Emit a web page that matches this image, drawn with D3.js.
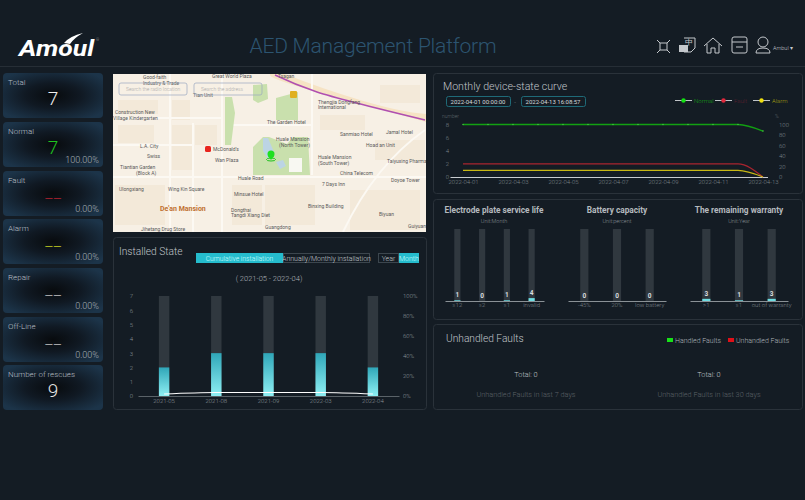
<!DOCTYPE html>
<html>
<head>
<meta charset="utf-8">
<script src="https://cdn.jsdelivr.net/npm/d3@7"></script>
<style>
html,body{margin:0;padding:0;background:#141c24;overflow:hidden}
svg{display:block}
text{font-family:Roboto,"Noto Sans",sans-serif;font-weight:300}
</style>
</head>
<body>
<div class="chart"></div>
<script>
// card values
const cardNames = ["Total","Normal","Fault","Alarm","Repair","Off-Line","Number of rescues"];
const cardValues = ["7","7","——","——","——","——","9"];
const cardPercents = ["","100.00%","0.00%","0.00%","0.00%","0.00%",""];

// installed state
const installMonths = ["2021-05","2021-08","2021-09","2022-03","2022-04"];
const installCounts = [2,3,3,3,2];
const installPercent = [2,3.5,3.5,3.5,2];
const installTicks = [0,1,2,3,4,5,6,7];
const installPctTicks = [0,20,40,60,80,100];

// monthly device-state
const stateDays = ["2022-04-01","2022-04-02","2022-04-03","2022-04-04","2022-04-05","2022-04-06","2022-04-07","2022-04-08","2022-04-09","2022-04-10","2022-04-11","2022-04-12","2022-04-13"];
const normalCurve = [8,8,8,8,8,8,8,8,8,8,8,8,7];
const faultCurve = [2,2,2,2,2,2,2,2,2,2,2,2,0];
const alarmCurve = [1,1,1,1,1,1,1,1,1,1,1,1,0];
const dayTicks = ["2022-04-01","2022-04-03","2022-04-05","2022-04-07","2022-04-09","2022-04-11","2022-04-13"];
const stateTicks = [0,2,4,6,8];
const statePctTicks = [0,20,40,60,80,100];
const stateNames = ["Normal","Fault","Alarm"];

// small bar groups
const electrodeCats = ["≤12","≤2","≤1","invalid"];
const electrodeVals = [1,0,1,4];
const batteryCats = ["-45%","20%","low battery"];
const batteryVals = [0,0,0];
const warrantyCats = [">1","≤1","out of warranty"];
const warrantyVals = [3,1,3];

const svg = d3.select(".chart").append("svg").attr("width",805).attr("height",500);
const defs = svg.append("defs");

const cardGrad = defs.append("radialGradient").attr("id","cardGrad").attr("r","62%");
cardGrad.append("stop").attr("offset","0%").attr("stop-color","#080b0e");
cardGrad.append("stop").attr("offset","45%").attr("stop-color","#101923");
cardGrad.append("stop").attr("offset","100%").attr("stop-color","#1c3449");

const barGrad = defs.append("linearGradient").attr("id","barGrad").attr("x1",0).attr("x2",0).attr("y1",0).attr("y2",1);
barGrad.append("stop").attr("offset","0%").attr("stop-color","#2fa6b8");
barGrad.append("stop").attr("offset","100%").attr("stop-color","#8ff0f4");

// header
svg.append("line").attr("x1",0).attr("x2",805).attr("y1",66.5).attr("y2",66.5).attr("stroke","#262e36");
svg.append("text").attr("x",19).attr("y",56).attr("fill","#fff").attr("font-size",22).attr("font-style","italic")
    .style("font-weight",700).attr("textLength",75).attr("lengthAdjust","spacingAndGlyphs").text("Amoul");
svg.append("path").attr("d","M64 43 Q70 36 83 33 Q74 38 70 44 Z").attr("fill","#fff");
svg.append("text").attr("x",96).attr("y",41).attr("fill","#aaa").attr("font-size",4).text("®");
svg.append("text").attr("x",373).attr("y",53).attr("text-anchor","middle").attr("fill","#2c5470").attr("font-size",21).attr("textLength",247).text("AED Management Platform");

// header icons
const icons = svg.append("g").attr("fill","none").attr("stroke","#c4c8cc").attr("stroke-width",1);
icons.append("rect").attr("x",660).attr("y",43).attr("width",7).attr("height",7);
icons.append("path").attr("d","M657 40l3 3M670 40l-3 3M657 53l3-3M670 53l-3-3");
icons.append("path").attr("d","M684 38h11v10l-4 4h-7");
icons.append("rect").attr("x",679).attr("y",45).attr("width",9).attr("height",7).attr("fill","#c4c8cc").attr("stroke","none");
svg.append("text").attr("x",685).attr("y",45).attr("fill","#c4c8cc").attr("font-size",8).text("中");
icons.append("path").attr("d","M704 46l9-8 9 8M707 44v9h4v-5h4v5h4v-9");
icons.append("rect").attr("x",732).attr("y",37).attr("width",15).attr("height",16).attr("rx",2);
icons.append("path").attr("d","M732 42h15M736 47h7");
icons.append("circle").attr("cx",763).attr("cy",42).attr("r",5);
icons.append("path").attr("d","M756 53q0-5 7-5t7 5z");
svg.append("text").attr("x",773).attr("y",50).attr("fill","#c4c8cc").attr("font-size",5.5).text("Ambul ▾");

// kpi cards
const cardTops = [73,122,171,219,268,317,365];
const cardColors = ["#f0f0f0","#1fc31f","#a8202c","#b8c020","#b5b5b5","#b5b5b5","#e4e4e4"];
const cards = svg.selectAll("g.card").data(cardNames).enter().append("g").attr("class","card")
    .attr("transform",(d,i)=>"translate(3,"+cardTops[i]+")");
cards.append("rect").attr("width",100).attr("height",45).attr("rx",4).attr("fill","url(#cardGrad)");
cards.append("text").attr("x",5).attr("y",12).attr("fill","#b9bfc5").attr("font-size",8).text(d=>d);
cards.append("text").attr("x",50).attr("y",(d,i)=>cardValues[i]=="——"?31:32).attr("text-anchor","middle")
    .attr("fill",(d,i)=>cardColors[i]).attr("font-size",(d,i)=>cardValues[i]=="——"?11:19)
    .style("font-weight",(d,i)=>cardValues[i]=="——"?400:300)
    .text((d,i)=>cardValues[i]);
cards.append("text").attr("x",96).attr("y",41).attr("text-anchor","end").attr("fill","#aab0b6").attr("font-size",9).text((d,i)=>cardPercents[i]);

// map
const map = svg.append("g");
map.append("rect").attr("x",113).attr("y",74).attr("width",313).attr("height",158).attr("fill","#f7f0e5");
const mapClip = defs.append("clipPath").attr("id","mapClip");
mapClip.append("rect").attr("x",113).attr("y",74).attr("width",313).attr("height",158);
const mapG = map.append("g").attr("clip-path","url(#mapClip)");
// building blocks
[[118,100,40,14],[118,125,36,18],[172,100,18,20],[172,125,20,45],[195,125,22,20],[232,185,30,40],[265,185,50,40],[350,190,70,40],[380,85,40,18],[320,115,45,15],[375,140,50,20],[115,185,50,40]].forEach(b=>{
    mapG.append("rect").attr("x",b[0]).attr("y",b[1]).attr("width",b[2]).attr("height",b[3]).attr("fill","#f3e9d9");
});
mapG.append("path").attr("d","M285 74Q320 88 360 100T426 114V122Q370 106 318 92T270 74z").attr("fill","#f6e3c4");
["M113 177H426","M113 118H222","M222 74V232","M193 123V232","M170 74V232","M312 74V175","M425 130Q375 165 343 232","M113 145H193","M232 125H312"].forEach(p=>{
    mapG.append("path").attr("d",p).attr("fill","none").attr("stroke","#fcf9f3").attr("stroke-width",2);
});
["M225 97h7l3 16-4 32h-6z","M253 85l14-1 1 15-10 4-5-3z","M276 98l22-6v28h-22z","M253 175v-28l10-10 6 0 18 7 6-7h15l2 38z"].forEach(p=>{
    mapG.append("path").attr("d",p).attr("fill","#c9e0ad");
});
mapG.append("path").attr("d","M263 138l5 0 6 14-6 7-5-8z").attr("fill","#bcd4e4");
mapG.append("path").attr("d","M276 162l7-2 3 6-6 3z").attr("fill","#bcd4e4");
mapG.append("rect").attr("x",289).attr("y",158).attr("width",13).attr("height",14).attr("fill","#f8f8f2");
mapG.append("path").attr("d","M275 75Q296 85 317 92T425 120").attr("fill","none").attr("stroke","#b04fb0").attr("stroke-width",1.4);
const mapPlaces = [["Good-faith",143,79],["Industry & Trade",143,85],["Great World Plaza",212,78],["Tsagan",278,78],["Tian Unit",193,97],["Thengjia Dongfang",318,104],["International",318,109],["The Garden Hotel",267,124],["Sanmiao Hotel",340,136],["Jamal Hotel",386,134],["Hoad an Unit",366,147],["Huale Mansion",276,141],["(North Tower)",279,147],["Huale Mansion",318,159],["(South Tower)",318,165],["Taiyuxing Pharmacy",387,163],["China Telecom",340,175],["Doyoe Tower",391,182],["7 Days Inn",322,186],["Huale Road",238,180],["McDonald's",213,151],["Wan Plaza",215,162],["Construction New",115,114],["Village Kindergarten",113,120],["L.A. City",140,148],["Swiss",147,158],["Tiantian Garden",120,169],["(Block A)",136,175],["Ulongxiang",119,191],["Wing Kin Square",168,191],["Minsue Hotel",234,196],["Binxing Building",308,208],["Biyuan",379,216],["Dongthai",231,212],["Tangdi Xiang Diet",231,217],["Jihetang Drug Store",141,231],["Guangdong",265,229],["Guiyuan",408,228]];
mapG.selectAll("text.lbl").data(mapPlaces).enter().append("text").attr("class","lbl")
    .attr("x",d=>d[1]).attr("y",d=>d[2]).attr("fill","#5a5a5a").attr("font-size",5).style("font-weight",400).text(d=>d[0]);
mapG.append("text").attr("x",160).attr("y",211).attr("fill","#c07030").attr("font-size",7).style("font-weight",700).text("De'an Mansion");
mapG.append("rect").attr("x",205).attr("y",146).attr("width",6).attr("height",6).attr("rx",1.5).attr("fill","#e8251e");
mapG.append("rect").attr("x",290).attr("y",91).attr("width",7).attr("height",7).attr("rx",1).attr("fill","#e0b020");
mapG.append("ellipse").attr("cx",271).attr("cy",159.5).attr("rx",4.5).attr("ry",1.5).attr("fill","none").attr("stroke","#1fc01f");
mapG.append("circle").attr("cx",271).attr("cy",154).attr("r",3.5).attr("fill","#1fe01f");
mapG.append("path").attr("d","M268 156l3 4 3-4z").attr("fill","#1fe01f");
[[119,"Search the radio location"],[194,"Search the address"]].forEach(b=>{
    mapG.append("rect").attr("x",b[0]).attr("y",83).attr("width",68).attr("height",12).attr("rx",2).attr("fill","none").attr("stroke","#9aa8c0").attr("stroke-width",0.7);
    mapG.append("text").attr("x",b[0]+7).attr("y",91).attr("fill","#aaa").attr("font-size",5).text(b[1]);
});

// panels
[[113,237,313,172],[433,73,369,120],[433,199,369,120],[433,324,369,85]].forEach(p=>{
    svg.append("rect").attr("x",p[0]+0.5).attr("y",p[1]+0.5).attr("width",p[2]).attr("height",p[3]).attr("rx",3)
        .attr("fill","#141c24").attr("stroke","#2a323a");
});

// installed state
svg.append("text").attr("x",119).attr("y",255).attr("fill","#c0c5ca").attr("font-size",10.2).text("Installed State");
svg.append("rect").attr("x",196).attr("y",253).attr("width",87).attr("height",10).attr("fill","#25bccd");
svg.append("text").attr("x",239.5).attr("y",261).attr("text-anchor","middle").attr("fill","#cff").attr("font-size",6.8).text("Cumulative installation");
svg.append("rect").attr("x",283.5).attr("y",253.5).attr("width",86).attr("height",9).attr("fill","none").attr("stroke","#3c464e");
svg.append("text").attr("x",326.5).attr("y",261).attr("text-anchor","middle").attr("fill","#c5cacf").attr("font-size",7).text("Annually/Monthly installation");
svg.append("rect").attr("x",378.5).attr("y",253.5).attr("width",20).attr("height",9).attr("fill","none").attr("stroke","#3c464e");
svg.append("text").attr("x",388.5).attr("y",261).attr("text-anchor","middle").attr("fill","#c5cacf").attr("font-size",7).text("Year");
svg.append("rect").attr("x",399).attr("y",253).attr("width",20).attr("height",10).attr("fill","#25bccd");
svg.append("text").attr("x",409).attr("y",261).attr("text-anchor","middle").attr("fill","#cff").attr("font-size",7).text("Month");
svg.append("text").attr("x",269).attr("y",281).attr("text-anchor","middle").attr("fill","#b0b6bc").attr("font-size",7.5).text("( 2021-05 - 2022-04)");

const instX = d3.scaleBand().domain(installMonths).range([138,399]).paddingInner(0.8).paddingOuter(0.4);
const instY = d3.scaleLinear().domain([0,7]).range([396,296]);
const instPct = d3.scaleLinear().domain([0,100]).range([396,296]);

svg.selectAll("rect.track").data(installMonths).enter().append("rect").attr("class","track")
    .attr("x",d=>instX(d)).attr("width",instX.bandwidth()).attr("y",instY(7)).attr("height",instY(0)-instY(7)).attr("fill","#30383f");
svg.selectAll("rect.inst").data(installCounts).enter().append("rect").attr("class","inst")
    .attr("x",(d,i)=>instX(installMonths[i])).attr("width",instX.bandwidth()).attr("y",d=>instY(d)).attr("height",d=>instY(0)-instY(d)).attr("fill","url(#barGrad)");

function styleAxis(g,color,size){
    g.selectAll("text").attr("fill",color).attr("font-size",size);
    g.selectAll("line").remove();
}
const instAxisX = svg.append("g").attr("transform","translate(0,396)").call(d3.axisBottom(instX).tickSize(0).tickPadding(3));
styleAxis(instAxisX,"#8b9298",6);
instAxisX.select("path").attr("stroke","#5a6268");
const instAxisL = svg.append("g").attr("transform","translate(136,0)").call(d3.axisLeft(instY).tickValues(installTicks).tickFormat(d3.format("d")).tickSize(0).tickPadding(3));
styleAxis(instAxisL,"#8b9298",6);
instAxisL.select("path").remove();
const instAxisR = svg.append("g").attr("transform","translate(400,0)").call(d3.axisRight(instPct).tickValues(installPctTicks).tickFormat(d=>d+"%").tickSize(0).tickPadding(3));
styleAxis(instAxisR,"#8b9298",6);
instAxisR.select("path").remove();

const instLine = d3.line().x((d,i)=>instX(installMonths[i])+instX.bandwidth()/2).y(d=>instPct(d)).curve(d3.curveMonotoneX);
svg.append("path").attr("d",instLine(installPercent)).attr("fill","none").attr("stroke","#fff").attr("stroke-width",1.1);

// monthly device-state curve
svg.append("text").attr("x",443).attr("y",90).attr("fill","#c0c5ca").attr("font-size",10.6).text("Monthly device-state curve");
[[446,64,"2022-04-01 00:00:00"],[521,64,"2022-04-13 16:08:57"]].forEach(b=>{
    svg.append("rect").attr("x",b[0]+0.5).attr("y",96.5).attr("width",b[1]).attr("height",10).attr("rx",2).attr("fill","none").attr("stroke","#1f6a78");
    svg.append("text").attr("x",b[0]+b[1]/2).attr("y",103.7).attr("text-anchor","middle").attr("fill","#d5d8db").attr("font-size",6).style("font-weight",400).text(b[2]);
});
svg.append("text").attr("x",515).attr("y",104).attr("text-anchor","middle").attr("fill","#9aa0a6").attr("font-size",6).text("-");

const legendX = [675,715,753];
const markColors = ["#12e012","#e0283c","#f0e010"];
const legendColors = ["#14a014","#5a2030","#a8a010"];
stateNames.forEach((n,i)=>{
    svg.append("line").attr("x1",legendX[i]).attr("x2",legendX[i]+17).attr("y1",100.5).attr("y2",100.5).attr("stroke","#c0c4c8");
    svg.append("circle").attr("cx",legendX[i]+8.5).attr("cy",100.5).attr("r",2.2).attr("fill",markColors[i]);
    svg.append("text").attr("x",legendX[i]+19).attr("y",102.7).attr("fill",legendColors[i]).attr("font-size",6).text(n);
});

const dayX = d3.scalePoint().domain(stateDays).range([463,763]);
const stateY = d3.scaleLinear().domain([0,8]).range([177,124.5]);
const statePct = d3.scaleLinear().domain([0,100]).range([177,124.5]);

const stateLine = d3.line().x((d,i)=>dayX(stateDays[i])).y(d=>stateY(d)).curve(d3.curveMonotoneX);
const dayAxis = svg.append("g").attr("transform","translate(0,177)").call(d3.axisBottom(dayX).tickValues(dayTicks).tickSize(0).tickPadding(3));
styleAxis(dayAxis,"#7d848a",6);
dayAxis.select("path").attr("d","M450.5,0.5H768").attr("stroke","#c8ccd0").attr("stroke-width",1);
const stateL = svg.append("g").attr("transform","translate(449,0)").call(d3.axisLeft(stateY).tickValues(stateTicks).tickSize(0).tickPadding(0));
styleAxis(stateL,"#7d848a",6);
stateL.select("path").remove();
const stateR = svg.append("g").attr("transform","translate(779,0)").call(d3.axisRight(statePct).tickValues(statePctTicks).tickSize(0).tickPadding(0));
styleAxis(stateR,"#7d848a",6);
stateR.select("path").remove();
svg.append("text").attr("x",442).attr("y",118).attr("fill","#5f666c").attr("font-size",5).text("number");
svg.append("text").attr("x",775).attr("y",118).attr("fill","#5f666c").attr("font-size",5).text("%");

[normalCurve,faultCurve,alarmCurve].forEach((c,i)=>{
    svg.append("path").attr("d",stateLine(c)).attr("fill","none").attr("stroke",["#12a012","#a8242f","#c8b814"][i]).attr("stroke-width",1.3);
});
svg.selectAll("circle.pt").data(normalCurve).enter().append("circle").attr("class","pt")
    .attr("cx",(d,i)=>dayX(stateDays[i])).attr("cy",d=>stateY(d)).attr("r",0.8).attr("fill","#40c040");

// small bar groups
const groups = [
    {title:"Electrode plate service life",unit:"Unit:Month",cats:electrodeCats,vals:electrodeVals,x0:445,x1:544,center:494},
    {title:"Battery capacity",unit:"Unit:percent",cats:batteryCats,vals:batteryVals,x0:568,x1:666,center:617},
    {title:"The remaining warranty",unit:"Unit:Year",cats:warrantyCats,vals:warrantyVals,x0:690,x1:788,center:739}
];
const smallY = d3.scaleLinear().domain([0,100]).range([301,229]);
groups.forEach(g=>{
    svg.append("text").attr("x",g.center).attr("y",213).attr("text-anchor","middle").attr("fill","#b4babf").attr("font-size",8.3).style("font-weight",700).text(g.title);
    svg.append("text").attr("x",g.center).attr("y",222.5).attr("text-anchor","middle").attr("fill","#868d93").attr("font-size",5.5).text(g.unit);
    const x = d3.scaleBand().domain(g.cats).range([g.x0,g.x1]).paddingInner(0.75).paddingOuter(0.375);
    svg.selectAll(null).data(g.cats).enter().append("rect")
        .attr("x",d=>x(d)).attr("width",x.bandwidth()).attr("y",smallY(100)).attr("height",smallY(0)-smallY(100)).attr("fill","#30383f");
    svg.selectAll(null).data(g.vals).enter().append("rect")
        .attr("x",(d,i)=>x(g.cats[i])).attr("width",x.bandwidth()).attr("y",d=>smallY(d)).attr("height",d=>smallY(0)-smallY(d)).attr("fill","#6fdde2");
    svg.selectAll(null).data(g.vals).enter().append("text")
        .attr("x",(d,i)=>x(g.cats[i])+x.bandwidth()/2).attr("y",d=>smallY(d)-3).attr("text-anchor","middle").attr("fill","#d8dcdf").attr("font-size",6.5).style("font-weight",700).text(d=>d);
    const ax = svg.append("g").attr("transform","translate(0,301)").call(d3.axisBottom(x).tickSize(0).tickPadding(2));
    styleAxis(ax,"#7d848a",6);
    ax.select("path").attr("stroke","#8a9196").attr("stroke-width",1);
});

// unhandled faults
svg.append("text").attr("x",446).attr("y",342).attr("fill","#c0c5ca").attr("font-size",10.2).text("Unhandled Faults");
svg.append("rect").attr("x",667).attr("y",338).attr("width",6).attr("height",4).attr("fill","#18e018");
svg.append("text").attr("x",675).attr("y",343).attr("fill","#aeb4ba").attr("font-size",7).text("Handled Faults");
svg.append("rect").attr("x",728).attr("y",338).attr("width",6).attr("height",4).attr("fill","#e01018");
svg.append("text").attr("x",736).attr("y",343).attr("fill","#aeb4ba").attr("font-size",7).text("Unhandled Faults");
[[526,"Unhandled Faults in last 7 days"],[709,"Unhandled Faults in last 30 days"]].forEach(t=>{
    svg.append("text").attr("x",t[0]).attr("y",377).attr("text-anchor","middle").attr("fill","#c0c5ca").attr("font-size",7.3).text("Total: 0");
    svg.append("text").attr("x",t[0]).attr("y",397).attr("text-anchor","middle").attr("fill","#5c6268").attr("font-size",7.3).text(t[1]);
});
</script>
</body>
</html>
